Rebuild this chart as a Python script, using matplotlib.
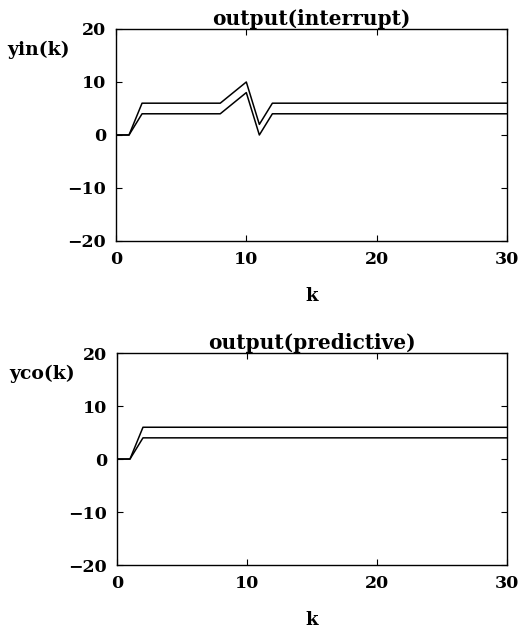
import matplotlib
matplotlib.use("Agg")
import matplotlib.pyplot as plt
import numpy as np

# sample index
k = np.arange(0, 31)

# output(interrupt): two output channels
yin_1 = [0, 0, 6, 6, 6, 6, 6, 6, 6, 8, 10, 2] + [6] * 19
yin_2 = [0, 0, 4, 4, 4, 4, 4, 4, 4, 6, 8, 0] + [4] * 19

# output(predictive): two output channels
yco_1 = [0, 0, 6] + [6] * 28
yco_2 = [0, 0, 4] + [4] * 28

xticks = [0, 10, 20, 30]
yticks = [-20, -10, 0, 10, 20]

plt.rcParams['font.family'] = 'DejaVu Serif'
plt.rcParams['font.weight'] = 'bold'
plt.rcParams['font.size'] = 12.5

fig = plt.figure(figsize=(5.26, 6.29), dpi=100)

panels = [
    ([0.2205, 0.6169, 0.7433, 0.337], yin_1, yin_2, 'output(interrupt)', 'yin(k)'),
    ([0.2224, 0.1017, 0.7414, 0.337], yco_1, yco_2, 'output(predictive)', 'yco(k)'),
]

for rect, s1, s2, title, ylab in panels:
    ax = fig.add_axes(rect)
    ax.plot(k, s1, color='black', lw=1.1)
    ax.plot(k, s2, color='black', lw=1.1)
    ax.set_xlim(0, 30)
    ax.set_ylim(-20, 20)
    ax.set_xticks(xticks)
    ax.set_yticks(yticks)
    ax.tick_params(direction='in', length=4, top=True, right=True, pad=7)
    for sp in ax.spines.values():
        sp.set_linewidth(1.0)
    ax.set_title(title, fontweight='bold', fontsize=14.5, pad=3)
    ax.set_xlabel('k', fontweight='bold', fontsize=13, labelpad=14)
    # y label sits horizontally at the top-left corner
    ax.text(-0.277, 0.90, ylab, transform=ax.transAxes, ha='left', va='center',
            fontweight='bold', fontsize=13.5)

fig.savefig('out.png', dpi=100)
